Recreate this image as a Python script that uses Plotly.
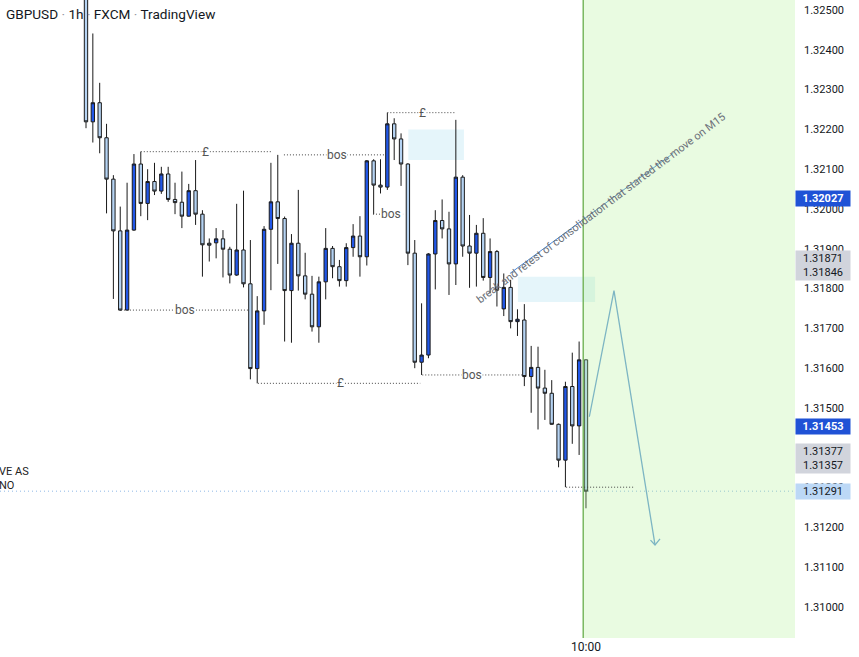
import plotly.graph_objects as go

# ---------------- data ----------------
bar_index = list(range(74))
open_ = [1.32650, 1.32219, 1.32267, 1.32179, 1.32075, 1.31945, 1.31746, 1.31947, 1.32113, 1.32014,
         1.32069, 1.32045, 1.32088, 1.32024, 1.32017, 1.31982, 1.32046, 1.31987, 1.31914, 1.31915,
         1.31925, 1.31899, 1.31834, 1.31897, 1.31812, 1.31599, 1.31744, 1.31949, 1.32018, 1.31976,
         1.31795, 1.31914, 1.31832, 1.31786, 1.31704, 1.31817, 1.31901, 1.31855, 1.31820, 1.31903,
         1.31932, 1.31880, 1.32121, 1.32060, 1.32055, 1.32214, 1.32176, 1.32113, 1.31889, 1.31615,
         1.31633, 1.31887, 1.31971, 1.31950, 1.31862, 1.32080, 1.31907, 1.31889, 1.31939, 1.31828,
         1.31893, 1.31749, 1.31803, 1.31717, 1.31721, 1.31579, 1.31602, 1.31550, 1.31537, 1.31459,
         1.31369, 1.31554, 1.31455, 1.31621]
high = [1.32700, 1.32441, 1.32317, 1.32214, 1.32085, 1.32006, 1.32066, 1.32138, 1.32144, 1.32100,
        1.32116, 1.32106, 1.32106, 1.32066, 1.32094, 1.32063, 1.32123, 1.31997, 1.31926, 1.31952,
        1.31947, 1.31905, 1.32013, 1.32046, 1.31922, 1.31781, 1.31957, 1.32116, 1.32136, 1.31981,
        1.31937, 1.32048, 1.31890, 1.31832, 1.31830, 1.31952, 1.31907, 1.31872, 1.31914, 1.31962,
        1.31982, 1.32123, 1.32125, 1.32125, 1.32242, 1.32228, 1.32190, 1.32115, 1.31922, 1.31763,
        1.31889, 1.31997, 1.32024, 1.31993, 1.32224, 1.32085, 1.31985, 1.31960, 1.31977, 1.31926,
        1.31897, 1.31838, 1.31822, 1.31748, 1.31761, 1.31656, 1.31654, 1.31596, 1.31570, 1.31461,
        1.31566, 1.31639, 1.31667, 1.31622]
low = [1.32203, 1.32167, 1.32140, 1.31989, 1.31774, 1.31744, 1.31745, 1.31945, 1.31982, 1.31972,
       1.32035, 1.32038, 1.32018, 1.31987, 1.31952, 1.31981, 1.31960, 1.31830, 1.31868, 1.31876,
       1.31828, 1.31813, 1.31832, 1.31803, 1.31572, 1.31562, 1.31709, 1.31796, 1.31862, 1.31667,
       1.31664, 1.31795, 1.31773, 1.31692, 1.31664, 1.31773, 1.31826, 1.31805, 1.31805, 1.31880,
       1.31830, 1.31858, 1.31987, 1.32039, 1.32048, 1.32123, 1.32058, 1.31859, 1.31600, 1.31583,
       1.31625, 1.31798, 1.31926, 1.31784, 1.31809, 1.31880, 1.31802, 1.31805, 1.31820, 1.31788,
       1.31755, 1.31731, 1.31700, 1.31681, 1.31555, 1.31488, 1.31446, 1.31470, 1.31458, 1.31351,
       1.31301, 1.31410, 1.31382, 1.31248]
close = [1.32219, 1.32267, 1.32179, 1.32075, 1.31945, 1.31746, 1.31947, 1.32113, 1.32014, 1.32069,
         1.32045, 1.32088, 1.32024, 1.32016, 1.31982, 1.32046, 1.31987, 1.31910, 1.31909, 1.31925,
         1.31899, 1.31834, 1.31897, 1.31812, 1.31599, 1.31744, 1.31949, 1.32018, 1.31976, 1.31795,
         1.31914, 1.31832, 1.31786, 1.31704, 1.31817, 1.31901, 1.31855, 1.31820, 1.31903, 1.31932,
         1.31880, 1.32121, 1.32060, 1.32055, 1.32214, 1.32176, 1.32113, 1.31889, 1.31615, 1.31633,
         1.31887, 1.31971, 1.31950, 1.31862, 1.32080, 1.31907, 1.31889, 1.31939, 1.31828, 1.31893,
         1.31796, 1.31803, 1.31717, 1.31723, 1.31579, 1.31602, 1.31550, 1.31537, 1.31459, 1.31369,
         1.31554, 1.31455, 1.31621, 1.31291]

x_tick_vals = [73]
x_tick_text = ["10:00"]
price_ticks = [1.310, 1.311, 1.312, 1.313, 1.314, 1.315, 1.316, 1.317,
               1.318, 1.319, 1.320, 1.321, 1.322, 1.323, 1.324, 1.325]
price_tick_text = ["%.5f" % v for v in price_ticks]

# horizontal level drawings: (price, start bar, end bar, label, label bar)
levels = [
    (1.32144, 8.0, 27.2, "£", 17.4),
    (1.32136, 28.9, 43.8, "bos", 36.6),
    (1.32242, 44.0, 54.0, "£", 49.2),
    (1.31987, 41.9, 46.3, "bos", 44.5),
    (1.31746, 5.1, 23.8, "bos", 14.5),
    (1.31562, 25.1, 48.8, "£", 37.1),
    (1.31583, 49.1, 63.8, "bos", 56.4),
    (1.31301, 70.1, 80.0, "", None),
]
zones = [  # (bar0, bar1, price_top, price_bottom)
    (47.06, 55.19, 1.32200, 1.32123),
    (63.07, 74.32, 1.31830, 1.31766),
]
trend_bars = [61.9, 85.75]
trend_prices = [1.31838, 1.32140]
note_text = "break and retest of consolidation that started the move on M15"
path_bars = [73.49, 77.09, 83.08]
path_prices = [1.31478, 1.31795, 1.31156]
head_bars = [82.42, 83.08, 83.81]
head_prices = [1.31168, 1.31156, 1.31171]
forecast_start = 72.6
last_price = 1.31291
side_note_price = 1.31322

axis_labels = [  # (text, price, bg, fg, bold)
    ("1.32027", 1.32027, "#1f52d6", "white", True),
    ("1.31871<br>1.31846", 1.31859, "#d1d4dc", "#131722", False),
    ("1.31453", 1.31453, "#1f52d6", "white", True),
    ("1.31377<br>1.31357", 1.31372, "#d1d4dc", "#131722", False),
    ("1.31291", 1.31291, "#bcd8f6", "#131722", False),
]

FONT = "Roboto"

fig = go.Figure()
fig.add_trace(go.Candlestick(
    x=bar_index, open=open_, high=high, low=low, close=close,
    increasing=dict(fillcolor="#2157e8", line=dict(color="#1a1a1a", width=1)),
    decreasing=dict(fillcolor="#b5d3f3", line=dict(color="#1a1a1a", width=1)),
    hoverinfo="skip", showlegend=False))

# trendline with note
fig.add_trace(go.Scatter(x=trend_bars, y=trend_prices, mode="lines",
                         line=dict(color="#4a86d8", width=1), hoverinfo="skip", showlegend=False))
# projected path
fig.add_trace(go.Scatter(x=path_bars, y=path_prices, mode="lines",
                         line=dict(color="#6a9fd6", width=1.3), hoverinfo="skip", showlegend=False))
fig.add_trace(go.Scatter(x=head_bars, y=head_prices, mode="lines",
                         line=dict(color="#6a9fd6", width=1.3), hoverinfo="skip", showlegend=False))

shapes = []
for b0, b1, pt, pb in zones:
    shapes.append(dict(type="rect", xref="x", yref="y", x0=b0, x1=b1, y0=pb, y1=pt,
                       fillcolor="rgba(180,226,242,0.35)", line=dict(width=0), layer="below"))
shapes.append(dict(type="rect", xref="x", yref="paper", x0=forecast_start, x1=120, y0=0, y1=1,
                   fillcolor="rgba(176,240,146,0.28)", line=dict(width=0), layer="above"))
shapes.append(dict(type="line", xref="x", yref="paper", x0=forecast_start, x1=forecast_start, y0=0, y1=1,
                   line=dict(color="#79b860", width=1.5), layer="above"))
for price, b0, b1, lab, lx in levels:
    shapes.append(dict(type="line", xref="x", yref="y", x0=b0, x1=b1, y0=price, y1=price,
                       line=dict(color="#444", width=1, dash="1px,2px"), layer="above"))
shapes.append(dict(type="line", xref="paper", yref="y", x0=0, x1=1, y0=last_price, y1=last_price,
                   line=dict(color="#8fb8e6", width=1, dash="1px,3px"), layer="below"))

annotations = []
for price, b0, b1, lab, lx in levels:
    if lab:
        annotations.append(dict(x=lx, y=price, xref="x", yref="y", text=lab, showarrow=False,
                                font=dict(family=FONT, size=12, color="#555"),
                                bgcolor="white", borderpad=0, xanchor="center", yanchor="middle"))
annotations.append(dict(x=75.16, y=1.32002, xref="x", yref="y", text=note_text, showarrow=False,
                        textangle=-37, font=dict(family=FONT, size=11, color="#6b6f78")))
annotations.append(dict(x=0, y=1, xref="paper", yref="paper", xanchor="left", yanchor="top",
                        xshift=4, yshift=-4, showarrow=False,
                        text="GBPUSD <span style='color:#9598a1'>·</span> 1h <span style='color:#9598a1'>·</span> FXCM <span style='color:#9598a1'>·</span> TradingView",
                        font=dict(family=FONT, size=13.6, color="#131722")))
annotations.append(dict(x=0, y=side_note_price, xref="paper", yref="y", xanchor="left", yanchor="middle",
                        xshift=-3, showarrow=False, align="left", text="VE AS<br>NO",
                        font=dict(family=FONT, size=11, color="#222")))
for txt, price, bg, fg, bold in axis_labels:
    annotations.append(dict(x=1, y=price, xref="paper", yref="y", xanchor="left", yanchor="middle",
                            showarrow=False, text=("<b>%s</b>" % txt) if bold else txt,
                            bgcolor=bg, width=52, borderpad=1, align="center",
                            font=dict(family=FONT, size=11, color=fg)))

fig.update_layout(
    width=859, height=657, margin=dict(l=0, r=64, t=0, b=19),
    paper_bgcolor="white", plot_bgcolor="white", hovermode=False,
    shapes=shapes, annotations=annotations, showlegend=False,
    xaxis=dict(range=[-12.556, 103.52], tickvals=x_tick_vals, ticktext=x_tick_text,
               showgrid=False, zeroline=False, showline=False, ticks="",
               rangeslider=dict(visible=False), fixedrange=True,
               tickfont=dict(family=FONT, size=12, color="#131722")),
    yaxis=dict(range=[1.309221, 1.325251], side="right", tickvals=price_ticks, ticktext=price_tick_text,
               showgrid=False, zeroline=False, showline=False, ticks="", ticklabelstandoff=8,
               fixedrange=True, tickfont=dict(family=FONT, size=11, color="#131722")),
)
fig.write_html("out.html", config={"displayModeBar": False},
               post_script="document.body.style.margin='0';document.body.style.overflow='hidden';")
